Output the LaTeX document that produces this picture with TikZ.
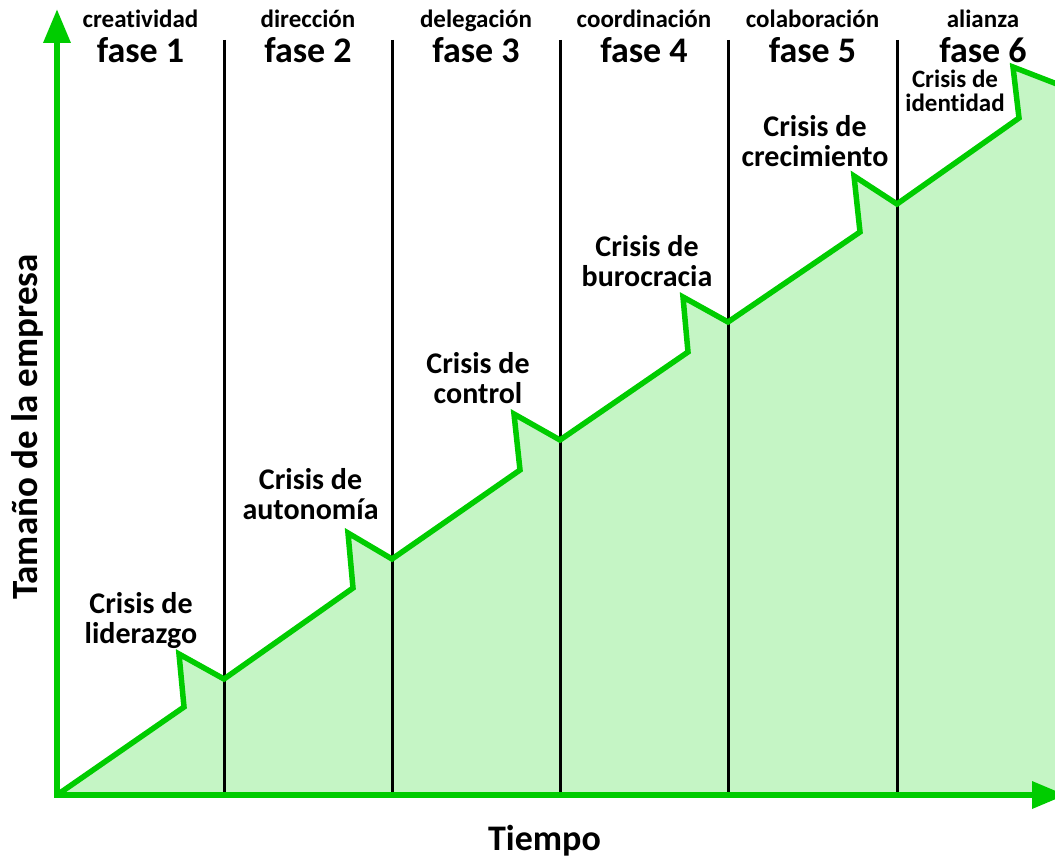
\documentclass[tikz,border=0pt]{standalone}
\usepackage{fontspec}
\setmainfont{Carlito}[Ligatures=NoCommon]
\usetikzlibrary{arrows.meta}
\definecolor{verde}{RGB}{0,204,0}
\definecolor{verdeclaro}{RGB}{197,245,197}
\tikzset{
    eje/.style={draw=verde, line width=6.5pt, line join=miter,
        {Triangle[width=26pt,length=34pt]}-{Triangle[width=26pt,length=34pt]}},
    curva/.style={draw=verde, line width=5.5pt, line join=miter},
    division/.style={draw=black, line width=3pt},
    etapa/.style={font=\fontsize{25}{25}\selectfont\bfseries, anchor=base, inner sep=0pt},
    fase/.style={font=\fontsize{36}{36}\selectfont\bfseries, anchor=base, inner sep=0pt},
    crisis/.style={font=\fontsize{30}{30}\selectfont\bfseries, align=center, anchor=north, inner sep=0pt},
    crisischica/.style={font=\fontsize{25}{24}\selectfont\bfseries, align=center, anchor=north, inner sep=0pt},
    titulo/.style={font=\fontsize{36}{36}\selectfont\bfseries, anchor=base, inner sep=0pt},
}

\begin{document}
\begin{tikzpicture}[x=1pt, y=-1pt]
		\clip (0,0) rectangle (1055,858);
		% puntos de la curva
		\coordinate (o) at (57,795);
		\coordinate (b1) at (184,707); \coordinate (t1) at (179,654); \coordinate (v1) at (224,679);
		\coordinate (b2) at (353,588); \coordinate (t2) at (348,533); \coordinate (v2) at (392,559);
		\coordinate (b3) at (520,470); \coordinate (t3) at (514,414); \coordinate (v3) at (560,440);
		\coordinate (b4) at (688,352); \coordinate (t4) at (683,297); \coordinate (v4) at (728,322);
		\coordinate (b5) at (860,232); \coordinate (t5) at (854,176); \coordinate (v5) at (897,204);
		\coordinate (b6) at (1019,118); \coordinate (t6) at (1013,67); \coordinate (fin) at (1075,91);
		\coordinate (arriba) at (57,9);
		\coordinate (derecha) at (1066,795);

		\fill[verdeclaro] (o) -- (b1) -- (t1) -- (v1) -- (b2) -- (t2) -- (v2) -- (b3) -- (t3) -- (v3)
			-- (b4) -- (t4) -- (v4) -- (b5) -- (t5) -- (v5) -- (b6) -- (t6) -- (fin) -- (1075,795) -- cycle;

		% divisiones entre fases
		\draw[division] (224,40) -- (224,795);
		\draw[division] (392,40) -- (392,795);
		\draw[division] (560,40) -- (560,795);
		\draw[division] (728,40) -- (728,795);
		\draw[division] (897,40) -- (897,795);

		\draw[curva] (o) -- (b1) -- (t1) -- (v1) -- (b2) -- (t2) -- (v2) -- (b3) -- (t3) -- (v3)
			-- (b4) -- (t4) -- (v4) -- (b5) -- (t5) -- (v5) -- (b6) -- (t6) -- (fin);
		\draw[eje] (arriba) -- (o) -- (derecha);

		% fases
		\node[etapa] (etapa1) at (140.5,28) {creatividad};
		\node[fase] (fase1) at (140.5,63) {fase 1};
		\node[etapa] (etapa2) at (308,28) {dirección};
		\node[fase] (fase2) at (308,63) {fase 2};
		\node[etapa] (etapa3) at (476,28) {delegación};
		\node[fase] (fase3) at (476,63) {fase 3};
		\node[etapa] (etapa4) at (644,28) {coordinación};
		\node[fase] (fase4) at (644,63) {fase 4};
		\node[etapa] (etapa5) at (812.5,28) {colaboración};
		\node[fase] (fase5) at (812.5,63) {fase 5};
		\node[etapa] (etapa6) at (983,28) {alianza};
		\node[fase] (fase6) at (983,63) {fase 6};

		% crisis
		\node[crisis] (liderazgo) at (141,592) {Crisis de\\liderazgo};
		\node[crisis] (autonomia) at (310.5,468) {Crisis de\\autonomía};
		\node[crisis] (control) at (478,352) {Crisis de\\control};
		\node[crisis] (burocracia) at (647,235) {Crisis de\\burocracia};
		\node[crisis] (crecimiento) at (815,115) {Crisis de\\crecimiento};
		\node[crisischica] (identidad) at (955,70) {Crisis de\\identidad};

		% ejes
		\node[titulo] (tiempo) at (544.5,850) {Tiempo};
		\node[titulo, rotate=90, font=\fontsize{37}{37}\selectfont\bfseries] (tamano) at (37,427) {Tamaño de la empresa};
\end{tikzpicture}
\end{document}
